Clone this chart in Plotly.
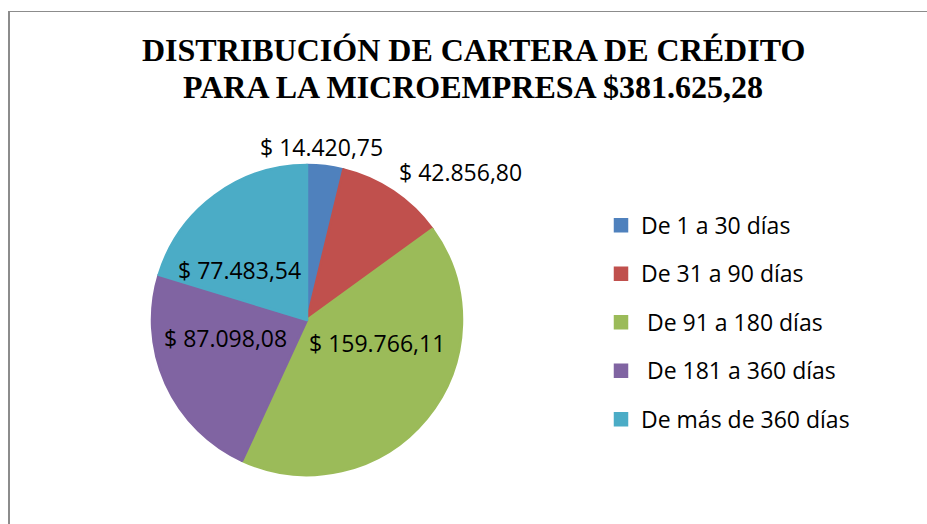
import math
import plotly.graph_objects as go

categories = ["De 1 a 30 días", "De 31 a 90 días", " De 91 a 180 días", " De 181 a 360 días", "De más de 360 días"]
values = [14420.75, 42856.80, 159766.11, 87098.08, 77483.54]
value_labels = ["$ 14.420,75", "$ 42.856,80", "$ 159.766,11", "$ 87.098,08", "$ 77.483,54"]
colors = ["#4F81BD", "#C0504D", "#9BBB59", "#8064A2", "#4BACC6"]
title_lines = ["DISTRIBUCIÓN DE CARTERA DE CRÉDITO", "PARA LA MICROEMPRESA $381.625,28"]

# ---- layout / style (page pixels; body margin removed) ----
W, H = 927, 524
cx, cy, r = 307, 320, 155
label_place = ["outside", "outside", "inside", "inside", "inside"]
label_nudge = [(-4, 0), (3, 0), (10, -26), (-11, -14), (-21, 12)]  # px, style tweaks
title_y = [50, 87]
FONT = "Open Sans"

def px(x):
    return x / W

def py(y):
    return 1 - y / H

legend_labels = ['<span style="font-size:23px;baseline-shift:5px">' + c + "</span>" for c in categories]

fig = go.Figure(go.Pie(
    labels=legend_labels,
    values=values,
    textinfo="none",
    sort=False,
    direction="clockwise",
    marker=dict(colors=colors, line=dict(color=colors, width=2.5)),
    domain=dict(x=[px(cx - r), px(cx + r)], y=[py(cy + r), py(cy - r)]),
    hoverinfo="label+value",
))

# data labels derived from the slice angles
total = sum(values)
annotations = []
cum = 0.0
for v, txt, place, (nx, ny) in zip(values, value_labels, label_place, label_nudge):
    mid = (cum + v / 2) / total * 2 * math.pi
    cum += v
    sx, sy = math.sin(mid), -math.cos(mid)
    if place == "outside":
        rr = r + 1
        xa = "center" if abs(sx) < 0.3 else ("left" if sx > 0 else "right")
        ya = "bottom" if sy < 0 else "top"
    else:
        rr = r * 0.5
        xa, ya = "center", "middle"
    x = cx + rr * sx + nx
    y = cy + rr * sy + ny
    annotations.append(dict(
        x=px(x), y=py(y), xref="paper", yref="paper",
        text=txt, showarrow=False, xanchor=xa, yanchor=ya,
        font=dict(family=FONT, size=23, color="black"),
    ))

for line, ty in zip(title_lines, title_y):
    annotations.append(dict(
        x=px(473), y=py(ty), xref="paper", yref="paper",
        text="<b>" + line + "</b>", showarrow=False, xanchor="center", yanchor="middle",
        font=dict(family="Liberation Serif", size=32, color="black"),
    ))

fig.update_layout(
    width=W, height=H,
    margin=dict(l=0, r=0, t=0, b=0),
    paper_bgcolor="white",
    showlegend=True,
    legend=dict(
        x=px(601), y=py(196), xanchor="left", yanchor="top",
        font=dict(family=FONT, size=35, color="black"),
    ),
    annotations=annotations,
    shapes=[
        dict(type="line", xref="paper", yref="paper", x0=px(9), x1=px(9), y0=0, y1=py(11),
             line=dict(color="#8C8C8C", width=2)),
        dict(type="line", xref="paper", yref="paper", x0=px(8), x1=1, y0=py(11.5), y1=py(11.5),
             line=dict(color="#8C8C8C", width=1)),
    ],
)

fig.write_html(
    "out.html",
    config={"displayModeBar": False},
    post_script="document.body.style.margin='0';document.body.style.overflow='hidden';",
)
